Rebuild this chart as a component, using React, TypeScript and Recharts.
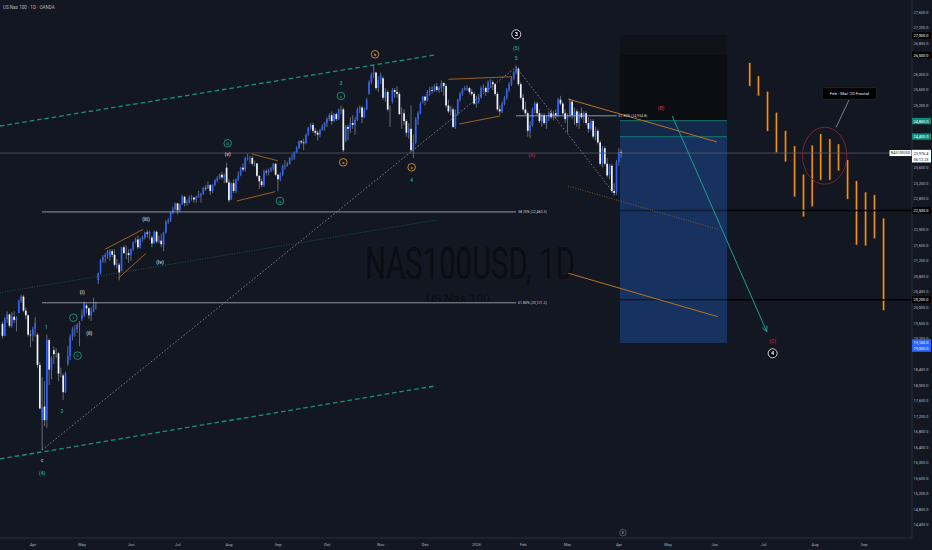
import React from "react";
import {
  Bar,
  ComposedChart,
  ReferenceArea,
  ReferenceDot,
  ReferenceLine,
  XAxis,
  YAxis,
} from "recharts";

// daily candles, [open, high, low, close]
type Row = [number, number, number, number];

const mar25: Row[] = [
  [19580, 19640, 19200, 19270], [19270, 19750, 19260, 19700], [19700, 19900, 19600, 19820],
  [19820, 19840, 19480, 19530], [19530, 19880, 19480, 19760], [19760, 19900, 19600, 19680],
  [19680, 19780, 19380, 19740], [19860, 20200, 19850, 20180], [20180, 20330, 20120, 20280],
  [20280, 20320, 19880, 19920], [19920, 20000, 19700, 19800], [19800, 19820, 19250, 19300],
  [19300, 19420, 18980, 19290],
];
const apr25: Row[] = [
  [19290, 19500, 19130, 19450], [19450, 19750, 19250, 19600], [19300, 19350, 18450, 18520],
  [18520, 18600, 17380, 17400], [17100, 18200, 16330, 17430], [17450, 18100, 16950, 17100],
  [17100, 19300, 16900, 19160], [19160, 19200, 18000, 18400], [18400, 18750, 18150, 18700],
  [18900, 19000, 18550, 18800], [18800, 18950, 18700, 18820], [18820, 18850, 18100, 18300],
  [18300, 18450, 18200, 18320], [18250, 18300, 17620, 17820], [17820, 18350, 17800, 18300],
  [18550, 19000, 18500, 18750], [18750, 19300, 18650, 19250], [19250, 19500, 19150, 19450],
  [19450, 19550, 19250, 19450], [19450, 19600, 19350, 19550], [19550, 19650, 19000, 19600],
];
const may25: Row[] = [
  [19700, 19950, 19650, 19800], [19800, 20150, 19750, 20100], [20050, 20100, 19850, 19980],
  [19980, 20000, 19700, 19800], [19800, 20000, 19650, 19900], [19900, 20250, 19880, 20060],
  [20060, 20150, 19950, 20060], [20700, 20900, 20600, 20870], [20870, 21250, 20850, 21200],
  [21200, 21350, 21150, 21300], [21300, 21400, 21150, 21350], [21350, 21480, 21250, 21450],
  [21300, 21500, 21200, 21450], [21450, 21500, 21300, 21360], [21360, 21500, 21050, 21100],
  [21100, 21250, 21000, 21130], [21100, 21150, 20700, 20900], [20950, 21550, 20930, 21550],
  [21550, 21600, 21380, 21400], [21400, 21600, 21250, 21400], [21400, 21500, 21150, 21350],
];
const jun25: Row[] = [
  [21350, 21520, 21200, 21500], [21500, 21700, 21450, 21680], [21680, 21800, 21650, 21750],
  [21750, 21850, 21500, 21550], [21550, 21800, 21520, 21760], [21760, 21850, 21700, 21800],
  [21800, 21950, 21750, 21930], [21930, 22000, 21800, 21900], [21900, 21980, 21750, 21950],
  [21800, 21850, 21550, 21650], [21650, 21980, 21650, 21950], [21950, 21980, 21650, 21700],
  [21700, 21850, 21650, 21720], [21720, 21900, 21550, 21630], [21600, 21950, 21450, 21930],
  [21930, 22250, 21900, 22200], [22200, 22300, 22150, 22240], [22240, 22460, 22200, 22450],
  [22450, 22600, 22400, 22530], [22530, 22700, 22500, 22680],
];
const jul25: Row[] = [
  [22680, 22700, 22400, 22500], [22500, 22680, 22450, 22650], [22650, 22900, 22640, 22860],
  [22850, 22880, 22600, 22690], [22690, 22780, 22620, 22700], [22700, 22880, 22680, 22830],
  [22830, 22900, 22750, 22830], [22830, 22850, 22700, 22780], [22780, 22880, 22700, 22850],
  [22850, 23000, 22820, 22880], [22880, 22950, 22700, 22930], [22930, 23100, 22900, 23080],
  [23080, 23150, 23000, 23070], [23070, 23250, 23050, 23150], [23150, 23180, 22900, 23000],
  [23000, 23170, 22950, 23160], [23160, 23300, 23120, 23280], [23280, 23380, 23220, 23330],
  [23330, 23450, 23300, 23420], [23420, 23500, 23300, 23350], [23350, 23450, 23200, 23400],
  [23600, 23720, 23200, 23220],
];
const aug25: Row[] = [
  [23220, 23300, 22700, 22760], [22780, 23220, 22770, 23200], [23200, 23300, 22950, 23000],
  [23000, 23320, 22950, 23300], [23300, 23500, 23250, 23400], [23400, 23620, 23380, 23600],
  [23600, 23720, 23500, 23550], [23550, 23880, 23500, 23850], [23850, 23950, 23780, 23850],
  [23850, 23900, 23700, 23850], [23850, 23900, 23650, 23700], [23700, 23780, 23620, 23710],
  [23710, 23720, 23350, 23390], [23390, 23400, 23050, 23250], [23250, 23320, 23100, 23150],
  [23150, 23550, 23100, 23500], [23500, 23560, 23400, 23480], [23480, 23580, 23400, 23530],
  [23530, 23620, 23480, 23580], [23580, 23720, 23520, 23700], [23700, 23710, 23380, 23420],
];
const sep25: Row[] = [
  [23420, 23440, 23000, 23300], [23300, 23480, 23250, 23420], [23420, 23680, 23380, 23650],
  [23650, 23800, 23550, 23650], [23650, 23750, 23620, 23700], [23700, 23880, 23680, 23850],
  [23850, 23950, 23780, 23850], [23850, 24020, 23800, 24000], [24000, 24150, 23980, 24100],
  [24100, 24300, 24080, 24280], [24280, 24320, 24200, 24250], [24250, 24350, 24050, 24230],
  [24230, 24480, 24200, 24450], [24450, 24650, 24420, 24630], [24630, 24750, 24580, 24700],
  [24700, 24760, 24500, 24550], [24550, 24620, 24420, 24500], [24500, 24560, 24300, 24450],
  [24450, 24600, 24380, 24570], [24570, 24720, 24550, 24660], [24660, 24780, 24550, 24750],
];
const oct25: Row[] = [
  [24750, 24900, 24650, 24850], [24850, 25000, 24800, 24950], [24950, 25050, 24700, 24800],
  [24800, 25000, 24780, 24980], [24980, 25020, 24800, 24850], [24850, 25120, 24830, 25100],
  [25100, 25200, 24980, 25100], [25100, 25150, 24000, 24050], [24300, 24700, 24250, 24650],
  [24650, 24700, 24300, 24600], [24600, 24900, 24500, 24750], [24750, 24950, 24600, 24700],
  [24700, 24900, 24450, 24830], [24830, 25150, 24800, 25100], [25100, 25200, 25000, 25150],
  [25150, 25180, 24750, 24900], [24900, 25150, 24880, 25100], [25100, 25400, 25080, 25350],
  [25500, 25850, 25480, 25800], [25800, 26050, 25750, 26000], [26000, 26250, 25900, 26050],
  [26050, 26060, 25600, 25650], [25650, 25950, 25550, 25850],
];
const nov25: Row[] = [
  [25850, 26050, 25750, 25970], [25900, 25950, 25350, 25400], [25400, 25650, 25300, 25550],
  [25550, 25600, 25050, 25100], [25100, 25200, 24650, 25100], [25300, 25650, 25250, 25600],
  [25600, 25650, 25400, 25550], [25550, 25700, 25400, 25500], [25500, 25550, 24950, 24980],
  [24980, 25150, 24600, 25000], [25000, 25100, 24700, 24800], [24800, 24850, 24400, 24500],
  [24500, 24750, 24350, 24600], [24600, 25200, 24000, 24050], [24050, 24450, 23850, 24250],
  [24250, 24900, 24200, 24850], [24850, 25050, 24700, 25000], [25000, 25300, 24980, 25250],
  [25300, 25450, 25250, 25430],
];
const dec25: Row[] = [
  [25430, 25450, 25200, 25330], [25330, 25600, 25300, 25550], [25550, 25680, 25450, 25600],
  [25600, 25700, 25500, 25580], [25580, 25750, 25550, 25690], [25690, 25780, 25550, 25600],
  [25600, 25700, 25520, 25650], [25650, 25850, 25550, 25780], [25780, 25800, 25450, 25700],
  [25700, 25750, 25150, 25200], [25200, 25350, 25000, 25050], [25050, 25200, 24950, 25100],
  [25100, 25150, 24620, 24650], [24650, 25100, 24600, 25000], [25000, 25380, 24950, 25350],
  [25350, 25550, 25300, 25500], [25500, 25650, 25450, 25600], [25600, 25700, 25580, 25650],
  [25650, 25720, 25580, 25650], [25650, 25680, 25480, 25550], [25550, 25620, 25450, 25500],
  [25500, 25550, 25220, 25250],
];
const jan26: Row[] = [
  [25250, 25450, 25150, 25300], [25300, 25500, 25250, 25400], [25400, 25700, 25380, 25650],
  [25650, 25750, 25550, 25650], [25650, 25700, 25450, 25550], [25550, 25850, 25530, 25800],
  [25800, 25880, 25650, 25800], [25800, 25850, 25600, 25750], [25750, 25780, 25450, 25500],
  [25500, 25550, 25050, 25100], [25100, 25200, 24950, 25050], [25050, 25300, 25000, 25250],
  [25250, 25450, 25200, 25400], [25400, 25650, 25350, 25600], [25600, 25800, 25550, 25750],
  [25750, 25950, 25700, 25900], [25900, 26100, 25850, 26050], [26050, 26240, 26000, 26150],
  [26150, 26180, 25700, 25750], [25750, 25800, 25350, 25400],
];
const feb26: Row[] = [
  [25400, 25500, 25050, 25100], [25100, 25300, 24950, 25000], [25000, 25050, 24400, 24550],
  [24550, 24800, 24350, 24700], [24700, 25150, 24650, 25100], [25100, 25300, 25000, 25250],
  [25250, 25300, 24950, 25000], [25000, 25100, 24750, 24800], [24800, 25000, 24650, 24950],
  [24950, 25000, 24700, 24750], [24750, 24950, 24600, 24900], [24900, 25050, 24800, 25000],
  [25000, 25100, 24850, 24900], [24900, 25050, 24820, 25000], [25000, 25100, 24850, 24950],
  [24950, 25400, 24900, 25350], [25350, 25450, 25200, 25250], [25250, 25300, 24950, 25000],
  [25000, 25100, 24750, 24850],
];
const mar26: Row[] = [
  [24850, 25000, 24500, 24950], [24950, 25380, 24900, 25300], [25300, 25350, 24850, 24950],
  [24950, 25150, 24700, 25050], [25050, 25100, 24650, 24750], [24750, 25050, 24600, 25000],
  [25000, 25150, 24850, 24900], [24900, 25050, 24750, 25000], [25000, 25050, 24700, 24750],
  [24750, 24900, 24500, 24600], [24600, 24850, 24550, 24800], [24800, 24850, 24350, 24400],
  [24400, 24650, 24300, 24550], [24550, 24600, 24200, 24250], [24250, 24300, 23650, 23700],
  [23700, 24150, 23600, 24100], [24100, 24150, 23650, 23700], [23700, 23850, 23350, 23400],
  [23400, 23700, 23300, 23650], [23650, 23700, 22950, 23000], [23000, 23200, 22880, 22950],
  [22950, 23800, 22900, 23750],
];
const apr26: Row[] = [
  [23750, 24100, 23650, 24000], [24000, 24060, 23850, 23976],
];

// projected bars (Feb - Mar '20 fractal), bar position + range
const projPos = [320.1, 323.8, 327.7, 331.5, 335.4, 339.3, 343.1, 346.8, 350.5, 354.4, 358.1, 362.0, 365.8, 369.7, 373.5, 377.4];
const projHigh = [26300, 25960, 25560, 25020, 24550, 24160, 23430, 24180, 24470, 24340, 24210, 23800, 23260, 22970, 22900, 22300];
const projLow = [25700, 25450, 24540, 23990, 23750, 22850, 22340, 22600, 23280, 23280, 23520, 22790, 21610, 21590, 21780, 19930];

const monthTicks = [13, 34, 55, 75, 97, 118, 139, 162, 181, 203, 223, 242, 264, 285, 305, 326, 348, 369];
const monthLabels = ["Apr", "May", "Jun", "Jul", "Aug", "Sep", "Oct", "Nov", "Dec", "2026", "Feb", "Mar", "Apr", "May", "Jun", "Jul", "Aug", "Sep"];

const priceTicks = [27600, 27200, 26800, 26000, 25600, 25200, 23600, 23200, 22800, 22000, 21600, 21200, 20800, 20400, 20000, 19600, 19200, 18400, 18000, 17600, 17200, 16800, 16400, 16000, 15600, 15200, 14800, 14400];
const markedPrices: { v: number; bg: string; fg: string; lines?: string[] }[] = [
  { v: 27000, bg: "#000000", fg: "#ffffff" },
  { v: 26500, bg: "#000000", fg: "#ffffff" },
  { v: 24800, bg: "#0f8a78", fg: "#ffffff" },
  { v: 24400, bg: "#0f8a78", fg: "#ffffff" },
  { v: 23976.4, bg: "#ffffff", fg: "#131722", lines: ["23,976.4", "06:12:23"] },
  { v: 22500, bg: "#000000", fg: "#ffffff" },
  { v: 20200, bg: "#000000", fg: "#ffffff" },
  { v: 19100, bg: "#2962ff", fg: "#ffffff", lines: ["19,100.0", "19,000.0"] },
];

const BG = "#131722";
const FONT = "Roboto, 'Noto Sans', Arial, sans-serif";
const AXIS_TXT = "#b2b5be";
const TEAL = "#16947e";
const TEAL_TXT = "#22a58c";
const ORANGE = "#f29a2e";
const GREY_TXT = "#c9ccd4";
const RED = "#b3283c";
const WEDGE = "#b9731f";

const waveLabels: { x: number; y: number; t: string; c: string; k: "plain" | "ring" | "dark" }[] = [
  { x: 16.9, y: 16073, t: "c", c: ORANGE, k: "plain" },
  { x: 16.9, y: 15738, t: "(4)", c: TEAL_TXT, k: "plain" },
  { x: 18.6, y: 19498, t: "1", c: TEAL_TXT, k: "plain" },
  { x: 25.4, y: 17335, t: "2", c: TEAL_TXT, k: "plain" },
  { x: 30.3, y: 19737, t: "i", c: TEAL_TXT, k: "ring" },
  { x: 32.1, y: 18759, t: "ii", c: TEAL_TXT, k: "ring" },
  { x: 34.1, y: 20399, t: "(i)", c: GREY_TXT, k: "plain" },
  { x: 37.1, y: 19351, t: "(ii)", c: GREY_TXT, k: "plain" },
  { x: 61.4, y: 22271, t: "(iii)", c: GREY_TXT, k: "plain" },
  { x: 67.4, y: 21179, t: "(iv)", c: GREY_TXT, k: "plain" },
  { x: 96.4, y: 24228, t: "iii", c: TEAL_TXT, k: "ring" },
  { x: 96.4, y: 23944, t: "(v)", c: GREY_TXT, k: "plain" },
  { x: 118.8, y: 22742, t: "iv", c: TEAL_TXT, k: "ring" },
  { x: 144.9, y: 25772, t: "3", c: TEAL_TXT, k: "plain" },
  { x: 144.9, y: 25445, t: "v", c: TEAL_TXT, k: "ring" },
  { x: 145.9, y: 23738, t: "a", c: ORANGE, k: "ring" },
  { x: 159.5, y: 26519, t: "b", c: ORANGE, k: "ring" },
  { x: 175.2, y: 23610, t: "c", c: ORANGE, k: "ring" },
  { x: 175.2, y: 23283, t: "4", c: TEAL_TXT, k: "plain" },
  { x: 220, y: 27034, t: "3", c: "#ffffff", k: "dark" },
  { x: 220, y: 26689, t: "(5)", c: TEAL_TXT, k: "plain" },
  { x: 220, y: 26431, t: "5", c: TEAL_TXT, k: "plain" },
  { x: 226.6, y: 23926, t: "(A)", c: RED, k: "plain" },
  { x: 282, y: 25129, t: "(B)", c: RED, k: "plain" },
  { x: 329.8, y: 19137, t: "(C)", c: RED, k: "plain" },
  { x: 329.8, y: 18821, t: "4", c: "#ffffff", k: "dark" },
];

const candles = [mar25, apr25, may25, jun25, jul25, aug25, sep25, oct25, nov25, dec25, jan26, feb26, mar26, apr26]
  .flat()
  .map(([o, h, l, c], i) => ({ x: i, range: [l, h], o, h, l, c, kind: "candle" }));
const projection = projPos.map((x, k) => ({ x, range: [projLow[k], projHigh[k]], kind: "proj" }));
const data = [...candles, ...projection];

const fmt = (v: number) => v.toLocaleString("en-US", { minimumFractionDigits: 1, maximumFractionDigits: 1 });

function CandleShape(props: any) {
  const { x, y, width, height, payload } = props;
  if (x == null || y == null || !payload) return null;
  const top = Math.min(y, y + height);
  const bot = Math.max(y, y + height);
  const cx = x + width / 2;
  if (payload.kind === "proj") {
    return <rect x={cx - 1} y={top} width={2} height={Math.max(bot - top, 1)} fill="#f0901c" stroke="#2b1a06" strokeWidth={0.35} />;
  }
  const { o, h, l, c } = payload;
  const span = h - l || 1;
  const py = (v: number) => top + ((h - v) / span) * (bot - top);
  const bTop = py(Math.max(o, c));
  const bBot = py(Math.min(o, c));
  return (
    <g>
      <line x1={cx} x2={cx} y1={top} y2={bot} stroke="#8a8e99" strokeWidth={0.7} />
      <rect x={cx - 0.85} y={bTop} width={1.7} height={Math.max(bBot - bTop, 0.6)} fill={c >= o ? "#2962ff" : "#f0f3fa"} />
    </g>
  );
}

function PriceTick(props: any) {
  const { y, payload } = props;
  const v = payload.value;
  const m = markedPrices.find((p) => p.v === v);
  if (!m) {
    return (
      <text x={913.5} y={y} dominantBaseline="central" fontSize={3.9} fill={AXIS_TXT} fontFamily={FONT}>
        {fmt(v)}
      </text>
    );
  }
  const lines = m.lines ?? [fmt(v)];
  return (
    <g>
      {m.v === 23976.4 && (
        <g>
          <rect x={889.5} y={y - 3} width={22} height={6} fill="#ffffff" />
          <text x={900.5} y={y} textAnchor="middle" dominantBaseline="central" fontSize={3.5} fill="#131722" fontFamily={FONT}>
            NAS100USD
          </text>
        </g>
      )}
      <rect x={912} y={y - 3.2} width={19} height={lines.length * 6.2 + 0.2} fill={m.bg} />
      {lines.map((t, i) => (
        <text key={t} x={913.5} y={y + i * 6.2} dominantBaseline="central" fontSize={3.9} fill={m.fg} fontFamily={FONT}>
          {t}
        </text>
      ))}
    </g>
  );
}

function MonthTick(props: any) {
  const { x, payload } = props;
  const k = monthTicks.indexOf(payload.value);
  return (
    <text x={x} y={544.5} textAnchor="middle" dominantBaseline="central" fontSize={4} fill={AXIS_TXT} fontFamily={FONT}>
      {monthLabels[k]}
    </text>
  );
}

function WaveLabel({ cx, cy, t, c, k }: any) {
  if (cx == null) return null;
  if (k === "plain") {
    return (
      <text x={cx} y={cy} textAnchor="middle" dominantBaseline="central" fontSize={5} fontWeight={600} fill={c} fontFamily={FONT}>
        {t}
      </text>
    );
  }
  const dark = k === "dark";
  return (
    <g>
      <circle cx={cx} cy={cy} r={dark ? 4.5 : 3.8} fill={dark ? "#000000" : BG} stroke={c} strokeWidth={0.8} />
      <text x={cx} y={cy + 0.2} textAnchor="middle" dominantBaseline="central" fontSize={dark ? 5.5 : 3.8} fontWeight={600} fill={c} fontFamily={FONT}>
        {t}
      </text>
    </g>
  );
}

function Arrow(p: any) {
  const { x1, y1, x2, y2 } = p;
  const ang = Math.atan2(y2 - y1, x2 - x1);
  const len = 6;
  const a1 = ang + Math.PI - 0.45;
  const a2 = ang + Math.PI + 0.45;
  return (
    <g>
      <line x1={x1} y1={y1} x2={x2} y2={y2} stroke="#1aa08e" strokeWidth={1} />
      <path
        d={`M${x2 + len * Math.cos(a1)},${y2 + len * Math.sin(a1)} L${x2},${y2} L${x2 + len * Math.cos(a2)},${y2 + len * Math.sin(a2)}`}
        fill="none"
        stroke="#1aa08e"
        strokeWidth={1}
      />
    </g>
  );
}

const seg = (x1: number, y1: number, x2: number, y2: number) => [
  { x: x1, y: y1 },
  { x: x2, y: y2 },
];

export default function App() {
  return (
    <div style={{ position: "fixed", left: 0, top: 0, width: 932, height: 550, background: BG, overflow: "hidden" }}>
      <svg width={932} height={550} style={{ position: "absolute", left: 0, top: 0 }}>
        <text x={365} y={279} fontSize={44} textLength={210} lengthAdjust="spacingAndGlyphs" fill="#0b0d12" fontFamily={FONT}>
          NAS100USD, 1D
        </text>
        <text x={426} y={302.5} fontSize={13} textLength={64} lengthAdjust="spacingAndGlyphs" fill="#0b0d12" fontFamily={FONT}>
          US Nas 100
        </text>
        <text x={3} y={8.5} fontSize={4.6} fill={AXIS_TXT} fontFamily={FONT}>
          US Nas 100 · 1D · OANDA
        </text>
      </svg>
      <div style={{ position: "absolute", left: 0, top: 0 }}>
        <ComposedChart width={932} height={550} data={data} margin={{ top: 0, right: 0, bottom: 0, left: 0 }}>
          <XAxis
            dataKey="x"
            type="number"
            domain={[-1.13, 389.5]}
            allowDataOverflow
            ticks={monthTicks}
            interval={0}
            tick={<MonthTick />}
            tickLine={false}
            axisLine={{ stroke: "#2a2e39" }}
            height={12}
          />
          <YAxis
            orientation="right"
            type="number"
            domain={[14065, 27917]}
            allowDataOverflow
            ticks={[...priceTicks, ...markedPrices.map((m) => m.v)]}
            interval={0}
            tick={<PriceTick />}
            tickLine={false}
            axisLine={{ stroke: "#2a2e39" }}
            width={20}
          />

          {/* position box */}
          <ReferenceArea x1={264.4} x2={310.3} y1={26500} y2={27016} fill="#0f1218" fillOpacity={1} stroke="none" />
          <ReferenceArea x1={264.4} x2={310.3} y1={24809} y2={26500} fill="#0b0d12" fillOpacity={1} stroke="none" />
          <ReferenceArea x1={264.4} x2={310.3} y1={24397} y2={24809} fill="#14284a" fillOpacity={1} stroke="none" />
          <ReferenceArea x1={264.4} x2={310.3} y1={19085} y2={24397} fill="#18325f" fillOpacity={1} stroke="none" />
          <ReferenceLine segment={seg(264.4, 24809, 310.3, 24809)} stroke="#1a8f82" strokeWidth={0.8} />
          <ReferenceLine segment={seg(264.4, 24397, 310.3, 24397)} stroke="#1a8f82" strokeWidth={0.8} />

          {/* horizontal targets */}
          <ReferenceLine segment={seg(264.4, 22500, 310.3, 22500)} stroke="#0c1a34" strokeWidth={1.5} />
          <ReferenceLine segment={seg(310.3, 22500, 389.5, 22500)} stroke="#000000" strokeWidth={1.5} />
          <ReferenceLine segment={seg(264.4, 20200, 310.3, 20200)} stroke="#0c1a34" strokeWidth={1.5} />
          <ReferenceLine segment={seg(310.3, 20200, 389.5, 20200)} stroke="#000000" strokeWidth={1.5} />

          {/* channel */}
          <ReferenceLine segment={seg(-1.13, 24673, 185.2, 26501)} stroke={TEAL} strokeWidth={1.3} strokeDasharray="4.5 3" />
          <ReferenceLine segment={seg(-1.13, 16100, 185.2, 17979)} stroke={TEAL} strokeWidth={1.3} strokeDasharray="4.5 3" />
          <ReferenceLine segment={seg(-1.13, 20381, 185.9, 22253)} stroke="#10665c" strokeWidth={0.8} strokeDasharray="1 1.5" />

          {/* current price line */}
          <ReferenceLine segment={seg(-1.13, 23976.4, 389.5, 23976.4)} stroke="#555965" strokeWidth={0.8} />

          {/* fib levels */}
          <ReferenceLine segment={seg(16.86, 22460.3, 219.9, 22460.3)} stroke="#b2b5be" strokeWidth={0.8} />
          <ReferenceLine segment={seg(16.86, 20121.2, 219.9, 20121.2)} stroke="#b2b5be" strokeWidth={0.8} />
          <ReferenceLine segment={seg(219.9, 24934.8, 263.0, 24934.8)} stroke="#b2b5be" strokeWidth={0.8} />
          <ReferenceDot x={220.7} y={22460.3} r={0} ifOverflow="visible"
            shape={(p: any) => <text x={p.cx} y={p.cy} dominantBaseline="central" fontSize={3.6} fill={GREY_TXT} fontFamily={FONT}>38.20% (22,460.3)</text>} />
          <ReferenceDot x={220.7} y={20121.2} r={0} ifOverflow="visible"
            shape={(p: any) => <text x={p.cx} y={p.cy} dominantBaseline="central" fontSize={3.6} fill={GREY_TXT} fontFamily={FONT}>61.80% (20,121.2)</text>} />
          <ReferenceDot x={263.8} y={24934.8} r={0} ifOverflow="visible"
            shape={(p: any) => <text x={p.cx} y={p.cy} dominantBaseline="central" fontSize={3.6} fill={GREY_TXT} fontFamily={FONT}>61.80% (24,934.8)</text>} />

          {/* dotted wave lines */}
          <ReferenceLine segment={seg(16.86, 16331, 219.9, 26192)} stroke="#9598a1" strokeWidth={0.8} strokeDasharray="1.5 2" />
          <ReferenceLine segment={seg(219.9, 26192, 262.3, 22897)} stroke="#9598a1" strokeWidth={0.8} strokeDasharray="1.5 2" />
          <ReferenceLine segment={seg(242.2, 23128, 306.4, 22013)} stroke="#8a5a2a" strokeWidth={0.9} strokeDasharray="1 1.5" />

          {/* wedges and trend lines */}
          <ReferenceLine segment={seg(43.8, 21498, 60.2, 22013)} stroke={WEDGE} strokeWidth={0.8} />
          <ReferenceLine segment={seg(49.5, 20752, 61.4, 21395)} stroke={WEDGE} strokeWidth={0.8} />
          <ReferenceLine segment={seg(106.7, 23952, 117.8, 23779)} stroke={WEDGE} strokeWidth={0.8} />
          <ReferenceLine segment={seg(100.3, 22742, 116.7, 22982)} stroke={WEDGE} strokeWidth={0.8} />
          <ReferenceLine segment={seg(190.9, 25875, 218.0, 25942)} stroke={WEDGE} strokeWidth={0.8} />
          <ReferenceLine segment={seg(195.5, 24724, 213.0, 24930)} stroke={WEDGE} strokeWidth={0.8} />
          <ReferenceLine segment={seg(242.2, 25368, 306.0, 24261)} stroke={WEDGE} strokeWidth={1} />
          <ReferenceLine segment={seg(242.3, 20881, 306.3, 19763)} stroke={WEDGE} strokeWidth={1} />

          {/* projected path arrow */}
          <ReferenceLine segment={seg(286.8, 24930, 327.3, 19377)} shape={Arrow} />

          <Bar dataKey="range" barSize={2} shape={CandleShape} isAnimationActive={false} />

          {/* fractal callout */}
          <ReferenceDot x={352.1} y={23908} r={0} ifOverflow="visible"
            shape={(p: any) => <ellipse cx={p.cx} cy={p.cy} rx={22.2} ry={28.5} fill="none" stroke="#7b2230" strokeWidth={1} />} />
          <ReferenceLine segment={seg(362.5, 25342, 357.0, 24639)} stroke="#9598a1" strokeWidth={0.8} />
          <ReferenceDot x={362.7} y={25510} r={0} ifOverflow="visible"
            shape={(p: any) => (
              <g>
                <rect x={p.cx - 27} y={p.cy - 5.8} width={54} height={11.6} rx={1} fill="#000000" stroke="#3a3e48" strokeWidth={0.4} />
                <text x={p.cx} y={p.cy} textAnchor="middle" dominantBaseline="central" fontSize={4.4} fill="#e0e3eb" fontFamily={FONT}>
                  Feb - Mar '20 Fractal
                </text>
              </g>
            )} />

          {waveLabels.map((w, i) => (
            <ReferenceDot key={i} x={w.x} y={w.y} r={0} ifOverflow="visible" shape={(p: any) => <WaveLabel cx={p.cx} cy={p.cy} t={w.t} c={w.c} k={w.k} />} />
          ))}

          {/* event marker */}
          <ReferenceDot x={265.7} y={14202} r={0} ifOverflow="visible"
            shape={(p: any) => (
              <g>
                <circle cx={p.cx} cy={p.cy} r={3.3} fill={BG} stroke="#787b86" strokeWidth={0.6} />
                <text x={p.cx} y={p.cy + 0.2} textAnchor="middle" dominantBaseline="central" fontSize={3.6} fill="#b2b5be" fontFamily={FONT}>E</text>
              </g>
            )} />
        </ComposedChart>
      </div>
    </div>
  );
}
